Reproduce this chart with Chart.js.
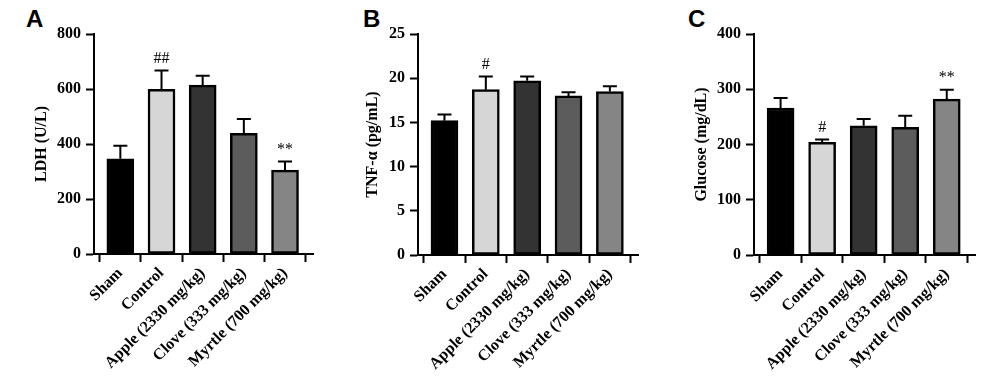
<!DOCTYPE html>
<html>
<head>
<meta charset="utf-8">
<script src="https://cdn.jsdelivr.net/npm/chart.js@4.4.0/dist/chart.umd.min.js"></script>
<style>
    body { margin: 0; background: #fff; width: 1000px; height: 386px; position: relative; overflow: hidden; }
    canvas { position: absolute; top: 0; }
    .panel-letter { position: absolute; font: bold 24px 'Liberation Sans', Arial, sans-serif; color: #000; line-height: 1; }
</style>
</head>
<body>
<div class="panel-letter" style="left:26px;top:7px">A</div>
<div class="panel-letter" style="left:363px;top:7px">B</div>
<div class="panel-letter" style="left:688px;top:7px">C</div>
<canvas id="chartA" width="333" height="386" style="left:0"></canvas>
<canvas id="chartB" width="333" height="386" style="left:333px"></canvas>
<canvas id="chartC" width="334" height="386" style="left:666px"></canvas>
<script>
// Groups shared by all three panels
const categories = ['Sham', 'Control', 'Apple (2330 mg/kg)', 'Clove (333 mg/kg)', 'Myrtle (700 mg/kg)'];
const barColors = ['#000000', '#d6d6d6', '#333333', '#5c5c5c', '#858585'];

// A: LDH (U/L) - mean and upper error
const ldhMeans = [346, 599, 614, 439, 305];
const ldhErrors = [48, 68, 34, 52, 31];
const ldhMarks = ['', '##', '', '', '**'];

// B: TNF-alpha (pg/mL)
const tnfMeans = [15.2, 18.7, 19.7, 18.0, 18.5];
const tnfErrors = [0.7, 1.5, 0.5, 0.4, 0.6];
const tnfMarks = ['', '#', '', '', ''];

// C: Glucose (mg/dL)
const glucoseMeans = [266, 204, 234, 231, 282];
const glucoseErrors = [18, 5, 12, 21, 17];
const glucoseMarks = ['', '#', '', '', '**'];

Chart.defaults.font.family = "'Liberation Serif', 'Times New Roman', serif";
Chart.defaults.color = '#000';

// Draws the upper error bar and the significance mark over each bar
const errorBarPlugin = {
    id: 'errorBars',
    afterDatasetsDraw(chart, args, opts) {
        const ctx = chart.ctx;
        const yScale = chart.scales.y;
        const meta = chart.getDatasetMeta(0);
        ctx.save();
        ctx.strokeStyle = '#000';
        ctx.lineWidth = 2;
        meta.data.forEach((bar, i) => {
            const top = yScale.getPixelForValue(opts.means[i] + opts.errors[i]);
            ctx.beginPath();
            ctx.moveTo(bar.x, bar.y);
            ctx.lineTo(bar.x, top);
            ctx.moveTo(bar.x - 7, top);
            ctx.lineTo(bar.x + 7, top);
            ctx.stroke();
            if (opts.marks[i]) {
                ctx.fillStyle = '#000';
                ctx.font = "16px 'Liberation Serif'";
                ctx.textAlign = 'center';
                ctx.textBaseline = 'bottom';
                ctx.fillText(opts.marks[i], bar.x, top - 4);
            }
        });
        ctx.restore();
    }
};

function makePanel(id, means, errors, marks, title, max, step, axisWidth, padRight, xHeight, titlePad) {
    const ctx = document.getElementById(id).getContext('2d');
    return new Chart(ctx, {
        type: 'bar',
        data: {
            datasets: [{
                data: means.map((v, i) => ({ x: i, y: v })),
                backgroundColor: barColors,
                borderColor: '#000',
                borderWidth: 2.5,
                borderSkipped: false,
                barThickness: 27
            }]
        },
        plugins: [errorBarPlugin],
        options: {
            responsive: false,
            animation: false,
            devicePixelRatio: 1,
            layout: { padding: { top: 34, right: padRight, left: 0, bottom: 0 } },
            plugins: {
                legend: { display: false },
                tooltip: { enabled: false },
                errorBars: { means: means, errors: errors, marks: marks }
            },
            scales: {
                x: {
                    type: 'linear',
                    offset: false,
                    min: -0.64,
                    max: 4.68,
                    afterBuildTicks: axis => { axis.ticks = categories.map((c, i) => ({ value: i })); },
                    afterFit: axis => { axis.height = xHeight; },
                    ticks: {
                        callback: v => categories[v],
                        autoSkip: false,
                        maxRotation: 45,
                        minRotation: 45,
                        color: '#000',
                        font: { size: 16, weight: 'bold' },
                        padding: 2
                    },
                    grid: { drawOnChartArea: false, tickLength: 8, tickWidth: 2, color: '#000' },
                    border: { color: '#000', width: 2 }
                },
                y: {
                    min: 0,
                    max: max,
                    afterFit: axis => { axis.width = axisWidth; },
                    ticks: { stepSize: step, color: '#000', font: { size: 16, weight: 'bold' }, padding: 5 },
                    grid: { drawOnChartArea: false, tickLength: 8, tickWidth: 2, color: '#000' },
                    border: { color: '#000', width: 2 },
                    title: {
                        display: true,
                        text: title,
                        color: '#000',
                        font: { size: 16, weight: 'bold' },
                        padding: { top: titlePad, bottom: 0 }
                    }
                }
            }
        }
    });
}

makePanel('chartA', ldhMeans, ldhErrors, ldhMarks, 'LDH (U/L)', 800, 200, 94, 20, 132, 32);
makePanel('chartB', tnfMeans, tnfErrors, tnfMarks, 'TNF-α (pg/mL)', 25, 5, 85, 28, 131, 30);
makePanel('chartC', glucoseMeans, glucoseErrors, glucoseMarks, 'Glucose (mg/dL)', 400, 100, 88, 25, 131, 26);
</script>
</body>
</html>
